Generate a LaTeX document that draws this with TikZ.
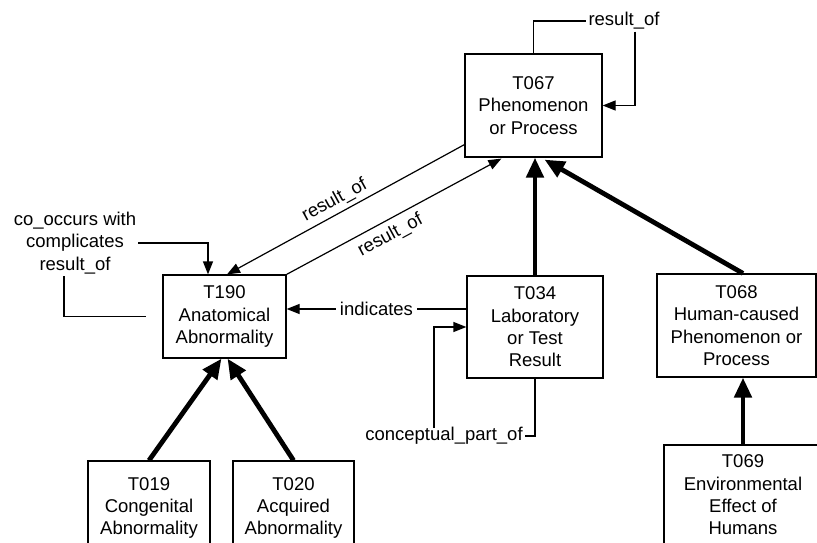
\documentclass[tikz,border=0pt]{standalone}
\usepackage{fontspec}
\setmainfont{Liberation Sans}
\usetikzlibrary{arrows.meta,calc}
\begin{document}
\begin{tikzpicture}[x=1pt,y=-1pt,
  every node/.style={font=\fontsize{18.5}{22.3}\selectfont},
  box/.style={draw, line width=1.2pt, rectangle, align=center, inner sep=0pt},
  lbl/.style={inner sep=2pt, align=center},
  thinarrow/.style={line width=1.2pt, -{Triangle[length=13pt,width=10pt]}},
  thinline/.style={line width=1.2pt},
  thickarrow/.style={line width=4.8pt, -{Triangle[length=20pt,width=17pt]}}]
\path[use as bounding box] (0,0) rectangle (817,542);
\clip (0,0) rectangle (817,542);

% boxes
\node[box, minimum width=137pt, minimum height=103pt] (T067) at (533.5,105.5) {T067\\Phenomenon\\or Process};
\node[box, minimum width=123pt, minimum height=83pt] (T190) at (224.5,316.5) {T190\\Anatomical\\Abnormality};
\node[box, minimum width=136pt, minimum height=102pt] (T034) at (535,327) {T034\\Laboratory\\or Test\\Result};
\node[box, minimum width=159pt, minimum height=103pt] (T068) at (736.5,325.5) {T068\\Human-caused\\Phenomenon or\\Process};
\node[box, minimum width=158pt, minimum height=100pt] (T069) at (743,495) {T069\\Environmental\\Effect of\\Humans};
\node[box, minimum width=122pt, minimum height=94pt] (T019) at (149,508) {T019\\Congenital\\Abnormality};
\node[box, minimum width=121pt, minimum height=94pt] (T020) at (293.5,508) {T020\\Acquired\\Abnormality};

% labels
\node[lbl] (rlab) at (624,21) {result\_of};
\node[lbl] (colab) at (75,243) {co\_occurs with\\complicates\\result\_of};
\node[lbl] (cpo) at (444,436) {conceptual\_part\_of};

% thick (isa) arrows
\draw[thickarrow] (T019.north) -- ($(T190.south)+(-3,0)$);
\draw[thickarrow] (T020.north) -- ($(T190.south)+(3,0)$);
\draw[thickarrow] (T034.north) -- (T034.north |- T067.south);
\draw[thickarrow] ($(T068.north)+(6.5,0)$) -- ($(T067.south)+(11,2)$);
\draw[thickarrow] (T069.north) -- (T069.north |- T068.south);

% result_of between T067 and T190
\draw[line width=1.2pt, {Triangle[length=13pt,width=10pt]}-] ($(T190.north)+(2.5,0)$) -- ($(T067.south west)+(0,-13)$)
  node[pos=0.48, sloped, above=2pt, inner sep=2pt] {result\_of};
\draw[thinarrow] (T190.north east) -- ($(T067.south west)+(37,1)$)
  node[pos=0.45, sloped, below=4pt, inner sep=2pt] {result\_of};

% indicates
\coordinate (ind) at ($(T034.west)+(0,-18)$);
\draw[thinarrow] (ind) -- (ind -| T190.east)
  node[midway, fill=white, inner sep=4pt] {indicates};

% conceptual_part_of loop
\draw[thinline] (T034.south) |- (cpo.east);
\draw[thinarrow] ($(cpo.north)+(-10,3)$) |- (T034.west);

% T067 self loop
\draw[thinline] (T067.north) |- (rlab.west);
\draw[thinarrow] ($(rlab.south)+(11,0)$) |- (T067.east);

% T190 loops
\draw[thinarrow] (colab.east) -| ($(T190.north)+(-16.5,0)$);
\draw[thinline] ($(colab.south)+(-11,0)$) |- ($(T190.west)+(-16,0)$);
\end{tikzpicture}
\end{document}
